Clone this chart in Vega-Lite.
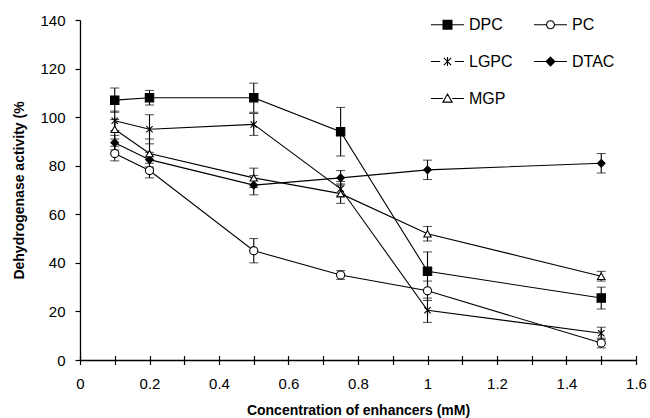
{
  "$schema": "https://vega.github.io/schema/vega-lite/v6.json",
  "width": 556,
  "height": 340,
  "autosize": "none",
  "padding": {"left": 80, "top": 20, "right": 14, "bottom": 58},
  "background": "white",
  "config": {
    "view": {"stroke": null},
    "font": "Liberation Sans",
    "axis": {"grid": false, "domainColor": "black", "tickColor": "black", "labelColor": "black", "titleColor": "black", "labelFont": "Liberation Sans", "titleFont": "Liberation Sans", "labelFontSize": 15, "titleFontSize": 14, "titleFontWeight": "bold", "domainWidth": 1.3, "tickWidth": 1.2}
  },
  "data": {"values": [
    {"series": "DPC", "conc": 0.1, "act": 107, "err": 5},
    {"series": "DPC", "conc": 0.2, "act": 108, "err": 3},
    {"series": "DPC", "conc": 0.5, "act": 108, "err": 6},
    {"series": "DPC", "conc": 0.75, "act": 94, "err": 10},
    {"series": "DPC", "conc": 1, "act": 36.5, "err": 8},
    {"series": "DPC", "conc": 1.5, "act": 25.5, "err": 4.5},
    {"series": "PC", "conc": 0.1, "act": 85, "err": 3},
    {"series": "PC", "conc": 0.2, "act": 78, "err": 3},
    {"series": "PC", "conc": 0.5, "act": 45, "err": 5},
    {"series": "PC", "conc": 0.75, "act": 35, "err": 1.8},
    {"series": "PC", "conc": 1, "act": 28.5, "err": 4},
    {"series": "PC", "conc": 1.5, "act": 7, "err": 2},
    {"series": "LGPC", "conc": 0.1, "act": 98.5, "err": 4},
    {"series": "LGPC", "conc": 0.2, "act": 95, "err": 6},
    {"series": "LGPC", "conc": 0.5, "act": 97, "err": 4.5},
    {"series": "LGPC", "conc": 0.75, "act": 70.5, "err": 3},
    {"series": "LGPC", "conc": 1, "act": 20.5, "err": 5},
    {"series": "LGPC", "conc": 1.5, "act": 11, "err": 2.5},
    {"series": "DTAC", "conc": 0.1, "act": 89.5, "err": 3},
    {"series": "DTAC", "conc": 0.2, "act": 82.5, "err": 3},
    {"series": "DTAC", "conc": 0.5, "act": 72, "err": 4},
    {"series": "DTAC", "conc": 0.75, "act": 75, "err": 3},
    {"series": "DTAC", "conc": 1, "act": 78.3, "err": 4},
    {"series": "DTAC", "conc": 1.5, "act": 81, "err": 4},
    {"series": "MGP", "conc": 0.1, "act": 95, "err": 4},
    {"series": "MGP", "conc": 0.2, "act": 85, "err": 6},
    {"series": "MGP", "conc": 0.5, "act": 75, "err": 4},
    {"series": "MGP", "conc": 0.75, "act": 68.5, "err": 4},
    {"series": "MGP", "conc": 1, "act": 52, "err": 3},
    {"series": "MGP", "conc": 1.5, "act": 34.5, "err": 2}
  ]},
  "layer": [
    {
      "mark": {"type": "line", "color": "black", "strokeWidth": 1.1},
      "encoding": {
        "x": {"field": "conc", "type": "quantitative", "title": "Concentration of enhancers (mM)", "scale": {"domain": [0, 1.6], "nice": false, "zero": false},
          "axis": {"orient": "bottom", "values": [0, 0.1, 0.2, 0.3, 0.4, 0.5, 0.6, 0.7, 0.8, 0.9, 1, 1.1, 1.2, 1.3, 1.4, 1.5, 1.6],
            "labelExpr": "round(datum.value*10)%2==0 ? format(datum.value, '~g') : ''", "tickSize": 4.5, "labelPadding": 12, "titlePadding": 12, "labelFlush": false, "labelOverlap": false}},
        "y": {"field": "act", "type": "quantitative", "title": "Dehydrogenase activity (%", "scale": {"domain": [0, 140], "nice": false},
          "axis": {"values": [0, 20, 40, 60, 80, 100, 120, 140], "tickSize": 5, "labelPadding": 10, "titlePadding": 13}},
        "detail": {"field": "series"},
        "order": {"field": "conc"}
      }
    },
    {
      "mark": {"type": "errorbar", "color": "black", "ticks": {"size": 9, "color": "black"}, "rule": {"strokeWidth": 1.1}},
      "encoding": {
        "x": {"field": "conc", "type": "quantitative", "axis": null, "scale": {"domain": [0, 1.6], "nice": false, "zero": false}},
        "y": {"field": "act", "type": "quantitative", "title": "Dehydrogenase activity (%"},
        "yError": {"field": "err"},
        "detail": {"field": "series"}
      }
    },
    {
      "mark": {"type": "point", "filled": false, "stroke": "black", "strokeWidth": 1.1, "opacity": 1},
      "encoding": {
        "x": {"field": "conc", "type": "quantitative", "axis": null, "scale": {"domain": [0, 1.6], "nice": false, "zero": false}},
        "y": {"field": "act", "type": "quantitative", "title": "Dehydrogenase activity (%"},
        "shape": {"field": "series", "type": "nominal", "legend": null,
          "scale": {"domain": ["DPC", "PC", "LGPC", "DTAC", "MGP"],
            "range": ["square", "circle", "M-0.8,-0.8L0.8,0.8M-0.8,0.8L0.8,-0.8M0,-1V1", "diamond", "triangle-up"]}},
        "fill": {"field": "series", "type": "nominal", "legend": null,
          "scale": {"domain": ["DPC", "PC", "LGPC", "DTAC", "MGP"], "range": ["black", "white", "black", "black", "white"]}},
        "size": {"field": "series", "type": "nominal", "legend": null,
          "scale": {"domain": ["DPC", "PC", "LGPC", "DTAC", "MGP"], "range": [70, 55, 60, 60, 55]}}
      }
    },
    {
      "mark": {"type": "point", "filled": false, "stroke": "black", "strokeWidth": 1.1, "opacity": 0},
      "encoding": {
        "x": {"field": "conc", "type": "quantitative", "title": null, "scale": {"domain": [0, 1.6], "nice": false, "zero": false},
          "axis": {"orient": "top", "offset": -340, "values": [0, 0.1, 0.2, 0.3, 0.4, 0.5, 0.6, 0.7, 0.8, 0.9, 1, 1.1, 1.2, 1.3, 1.4, 1.5, 1.6], "labels": false, "domain": false, "tickSize": 4.5}},
        "y": {"field": "act", "type": "quantitative", "title": "Dehydrogenase activity (%"},
        "shape": {"field": "series", "type": "nominal",
          "scale": {"domain": ["DPC", "PC", "LGPC", "DTAC", "MGP"],
            "range": [
              "M-1,0H1M-0.27,-0.27H0.27V0.27H-0.27ZM-0.27,-0.21H0.27M-0.27,-0.15H0.27M-0.27,-0.09H0.27M-0.27,-0.03H0.27M-0.27,0.03H0.27M-0.27,0.09H0.27M-0.27,0.15H0.27M-0.27,0.21H0.27",
              "M-1,0H-0.24M0.24,0H1M-0.24,0A0.24,0.24,0,1,0,0.24,0A0.24,0.24,0,1,0,-0.24,0Z",
              "M-1,0H-0.45M0.45,0H1M-0.22,-0.22L0.22,0.22M-0.22,0.22L0.22,-0.22M0,-0.28V0.28",
              "M-1,0H1M0,-0.27L0.27,0L0,0.27L-0.27,0ZM-0.06,-0.21H0.06M-0.12,-0.15H0.12M-0.18,-0.09H0.18M-0.24,-0.03H0.24M-0.24,0.03H0.24M-0.18,0.09H0.18M-0.12,0.15H0.12M-0.06,0.21H0.06",
              "M-1,0H-0.28M0.28,0H1M0,-0.27L0.28,0.22L-0.28,0.22Z"
            ]},
          "legend": {"orient": "none", "legendX": 350, "legendY": -13, "columns": 2, "direction": "horizontal", "title": null,
            "symbolSize": 1089, "symbolStrokeColor": "black", "symbolFillColor": "transparent", "symbolStrokeWidth": 1.1, "symbolOpacity": 1,
            "labelFontSize": 16, "labelFont": "Liberation Sans", "labelColor": "black", "labelOffset": 4,
            "rowPadding": 11, "columnPadding": 18}}
      }
    }
  ],
  "resolve": {"scale": {"shape": "independent", "fill": "independent", "x": "independent"}, "axis": {"x": "independent"}}
}
